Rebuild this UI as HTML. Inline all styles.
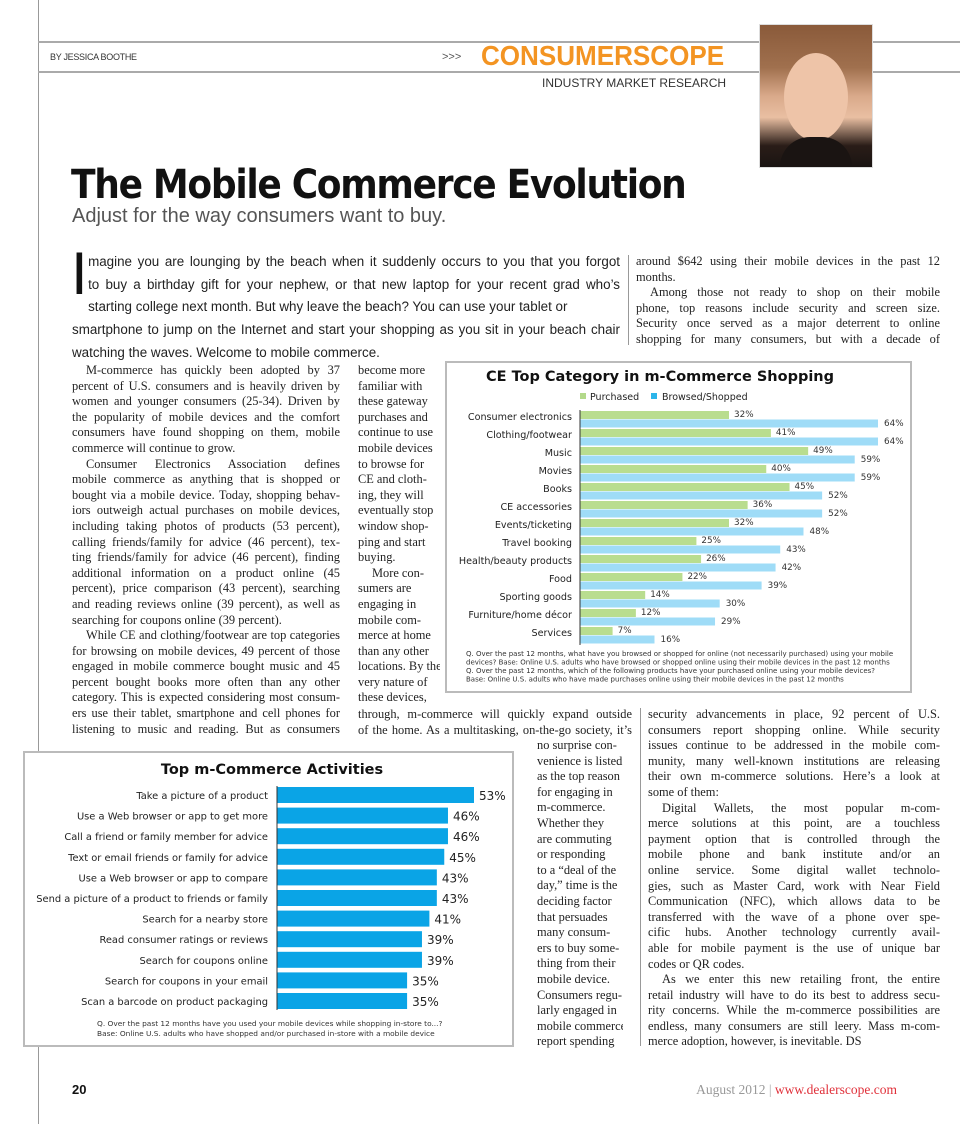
<!DOCTYPE html>
<html><head><meta charset="utf-8">
<style>
body{margin:0;background:#fff;}
#page{position:relative;width:960px;height:1124px;overflow:hidden;background:#fff;font-family:"Liberation Serif",serif;color:#222;}
.abs{position:absolute;}
.col{position:absolute;font-size:12.4px;line-height:15.6px;}
.ln{display:block;height:15.6px;white-space:nowrap;text-align:justify;text-align-last:justify;overflow:hidden;}
.ln.last{text-align-last:left;}
.ln.ind{text-indent:14px;}
.intro{position:absolute;font-family:"Liberation Sans",sans-serif;font-size:13.4px;line-height:22.7px;color:#222;}
.intro .ln{height:22.7px;}
</style></head><body>
<div id="page">
  <div class="abs" style="left:38px;top:0;width:1px;height:1124px;background:#999"></div>
  <div class="abs" style="left:38px;top:41px;width:922px;height:2px;background:#aaa"></div>
  <div class="abs" style="left:38px;top:71px;width:922px;height:2px;background:#aaa"></div>
  <div class="abs" style="left:50px;top:52px;font-family:'Liberation Sans Narrow','Liberation Sans',sans-serif;font-size:9px;color:#333;letter-spacing:-0.3px">BY JESSICA BOOTHE</div>
  <div class="abs" style="left:442px;top:51px;font-family:'Liberation Sans',sans-serif;font-size:11px;color:#555">&gt;&gt;&gt;</div>
  <div class="abs" style="left:481px;top:40px;font-family:'Liberation Sans Narrow','Liberation Sans',sans-serif;font-size:28px;font-weight:bold;color:#f39422;transform:scaleX(0.93);transform-origin:left top">CONSUMERSCOPE</div>
  <div class="abs" style="left:542px;top:76px;font-family:'Liberation Sans',sans-serif;font-size:12px;color:#333">INDUSTRY MARKET RESEARCH</div>
  <div class="abs" style="left:759px;top:24px;width:112px;height:142px;background:linear-gradient(180deg,#8a5a3a 0%,#a0704e 30%,#d9a98a 50%,#e9bfa2 65%,#2a1d18 85%,#1a1412 100%);border:1px solid #ddd">
    <div class="abs" style="left:24px;top:28px;width:64px;height:88px;border-radius:50%;background:#eec4a8"></div>
    <div class="abs" style="left:20px;top:112px;width:72px;height:30px;background:#1a1412;border-radius:30px 30px 0 0"></div>
  </div>
  <div class="abs" style="left:71px;top:162px;font-family:'DejaVu Sans Condensed','Liberation Sans',sans-serif;font-size:40px;font-weight:bold;color:#111;letter-spacing:-1.3px">The Mobile Commerce Evolution</div>
  <div class="abs" style="left:72px;top:205px;font-family:'Liberation Sans',sans-serif;font-size:20px;color:#555">Adjust for the way consumers want to buy.</div>
  <div class="abs" style="left:71px;top:244px;font-family:'Liberation Sans',sans-serif;font-size:60px;line-height:60px;color:#111">I</div>
  <div class="intro" id="intro" style="left:72px;top:251px;width:548px"></div>
  <div class="abs" style="left:628px;top:255px;width:1px;height:90px;background:#999"></div>
  <div class="abs" style="left:640px;top:708px;width:1px;height:338px;background:#999"></div>
  <div class="col" id="colA" style="left:72px;top:363px;width:268px"></div>
  <div class="col" id="colB" style="left:358px;top:363px;width:82px"></div>
  <div class="col" id="colC" style="left:358px;top:707px;width:274px"></div>
  <div class="col" id="colD" style="left:537px;top:738px;width:86px"></div>
  <div class="col" id="colE" style="left:636px;top:254px;width:304px"></div>
  <div class="col" id="colF" style="left:648px;top:707px;width:292px"></div>

  <svg class="abs" style="left:0;top:0" width="960" height="1124" id="charts"></svg>

  <div class="abs" style="left:72px;top:1082px;font-family:'Liberation Sans',sans-serif;font-size:13px;font-weight:bold;color:#111">20</div>
  <div class="abs" style="left:668px;top:1082px;width:229px;text-align:right;font-family:'Liberation Serif',serif;font-size:13.5px;color:#999">August 2012 <span style="color:#aaa">|</span> <span style="color:#e0303a">www.dealerscope.com</span></div>
</div>
<script>
// ---- text columns ("^" = indented first line, "~" = last line of paragraph) ----
function fill(id, lines){
  var c=document.getElementById(id);
  lines.forEach(function(t){
    var s=document.createElement('span');
    
    
    var cls='ln';
    if(t[0]==='^'){cls+=' ind';t=t.slice(1);}
    if(t[t.length-1]==='~'){cls+=' last';t=t.slice(0,-1);}
    s.className=cls; s.textContent=t; c.appendChild(s);
  });
}
fill('intro',[
 '\u2003\u2009magine you are lounging by the beach when it suddenly occurs to you that you forgot',
 '\u2003\u2009to buy a birthday gift for your nephew, or that new laptop for your recent grad who\u2019s',
 '\u2003\u2009starting college next month. But why leave the beach? You can use your tablet or~',
 'smartphone to jump on the Internet and start your shopping as you sit in your beach chair',
 'watching the waves. Welcome to mobile commerce.~']);
fill('colA',[
 '^M-commerce has quickly been adopted by 37','percent of U.S. consumers and is heavily driven by','women and younger consumers (25-34). Driven by','the popularity of mobile devices and the comfort','consumers have found shopping on them, mobile','commerce will continue to grow.~',
 '^Consumer Electronics Association defines','mobile commerce as anything that is shopped or','bought via a mobile device. Today, shopping behav-','iors outweigh actual purchases on mobile devices,','including taking photos of products (53 percent),','calling friends/family for advice (46 percent), tex-','ting friends/family for advice (46 percent), finding','additional information on a product online (45','percent), price comparison (43 percent), searching','and reading reviews online (39 percent), as well as','searching for coupons online (39 percent).~',
 '^While CE and clothing/footwear are top categories','for browsing on mobile devices, 49 percent of those','engaged in mobile commerce bought music and 45','percent bought books more often than any other','category. This is expected considering most consum-','ers use their tablet, smartphone and cell phones for','listening to music and reading. But as consumers']);
fill('colB',['become more~','familiar with~','these gateway~','purchases and~','continue to use~','mobile devices~','to browse for~','CE and cloth-~','ing, they will~','eventually stop~','window shop-~','ping and start~','buying.~','^More con-~','sumers are~','engaging in~','mobile com-~','merce at home~','than any other~','locations. By the~','very nature of~','these devices,~']);
fill('colC',['through, m-commerce will quickly expand outside','of the home. As a multitasking, on-the-go society, it\u2019s']);
fill('colD',['no surprise con-~','venience is listed~','as the top reason~','for engaging in~','m-commerce.~','Whether they~','are commuting~','or responding~','to a \u201cdeal of the~','day,\u201d time is the~','deciding factor~','that persuades~','many consum-~','ers to buy some-~','thing from their~','mobile device.~','Consumers regu-~','larly engaged in~','mobile commerce~','report spending~']);
fill('colE',['around $642 using their mobile devices in the past 12','months.~','^Among those not ready to shop on their mobile','phone, top reasons include security and screen size.','Security once served as a major deterrent to online','shopping for many consumers, but with a decade of']);
fill('colF',['security advancements in place, 92 percent of U.S.','consumers report shopping online. While security','issues continue to be addressed in the mobile com-','munity, many well-known institutions are releasing','their own m-commerce solutions. Here\u2019s a look at','some of them:~',
 '^Digital Wallets, the most popular m-com-','merce solutions at this point, are a touchless','payment option that is controlled through the','mobile phone and bank institute and/or an','online service. Some digital wallet technolo-','gies, such as Master Card, work with Near Field','Communication (NFC), which allows data to be','transferred with the wave of a phone over spe-','cific hubs. Another technology currently avail-','able for mobile payment is the use of unique bar','codes or QR codes.~',
 '^As we enter this new retailing front, the entire','retail industry will have to do its best to address secu-','rity concerns. While the m-commerce possibilities are','endless, many consumers are still leery. Mass m-com-','merce adoption, however, is inevitable. DS~']);
</script>
<script>
// ---- chart data ----
var ceCategories=['Consumer electronics','Clothing/footwear','Music','Movies','Books','CE accessories','Events/ticketing','Travel booking','Health/beauty products','Food','Sporting goods','Furniture/home d\u00e9cor','Services'];
var cePurchased=[32,41,49,40,45,36,32,25,26,22,14,12,7];
var ceBrowsed=[64,64,59,59,52,52,48,43,42,39,30,29,16];
var actCategories=['Take a picture of a product','Use a Web browser or app to get more','Call a friend or family member for advice','Text or email friends or family for advice','Use a Web browser or app to compare','Send a picture of a product to friends or family','Search for a nearby store','Read consumer ratings or reviews','Search for coupons online','Search for coupons in your email','Scan a barcode on product packaging'];
var actValues=[53,46,46,45,43,43,41,39,39,35,35];

var svg=document.getElementById('charts');
var NS='http://www.w3.org/2000/svg';
function mk(tag,attrs,txt){var e=document.createElementNS(NS,tag);for(var k in attrs)e.setAttribute(k,attrs[k]);if(txt!==undefined)e.textContent=txt;svg.appendChild(e);return e;}
var SANS='DejaVu Sans, Liberation Sans, sans-serif';

// Chart 1
var c1={x0:580,scale:(878-580)/64,top:411,pitch:18,bh:8};
function x1(v){return c1.x0+v*c1.scale;}
function y1(i){return c1.top+i*c1.pitch;}
var e;
e=mk('rect',{x:446,y:362,width:465,height:330,fill:'#fff',stroke:'#bbb','stroke-width':2});

e=mk('text',{x:660,y:381,'text-anchor':'middle','font-family':SANS,'font-size':14.5,'font-weight':'bold',fill:'#111'},'CE Top Category in m-Commerce Shopping');

e=mk('rect',{x:580,y:393,width:6,height:6,fill:'#b3d98a'});

e=mk('text',{x:590,y:400,'font-family':SANS,'font-size':9.5,fill:'#222'},'Purchased');

e=mk('rect',{x:651,y:393,width:6,height:6,fill:'#2cb5ea'});

e=mk('text',{x:662,y:400,'font-family':SANS,'font-size':9.5,fill:'#222'},'Browsed/Shopped');

ceCategories.forEach(function(c,i){
  var y=y1(i);
  e=mk('text',{x:572,y:y+9,'text-anchor':'end','font-family':SANS,'font-size':9.6,fill:'#222'},c);
  
  e=mk('rect',{x:c1.x0,y:y,width:x1(cePurchased[i])-c1.x0,height:c1.bh,fill:'#b9dd8f'});
  
  e=mk('rect',{x:c1.x0,y:y+c1.bh+0.5,width:x1(ceBrowsed[i])-c1.x0,height:c1.bh,fill:'#9fdcf7'});
  
  e=mk('text',{x:x1(cePurchased[i])+5,y:y+6,'font-family':SANS,'font-size':8.8,fill:'#333'},cePurchased[i]+'%');
  
  e=mk('text',{x:x1(ceBrowsed[i])+6,y:y+15,'font-family':SANS,'font-size':8.8,fill:'#333'},ceBrowsed[i]+'%');
  
});
e=mk('line',{x1:c1.x0,y1:y1(0)-1,x2:c1.x0,y2:y1(ceCategories.length-1)+2*c1.bh+2,stroke:'#333','stroke-width':1});

['Q. Over the past 12 months, what have you browsed or shopped for online (not necessarily purchased) using your mobile','devices? Base: Online U.S. adults who have browsed or shopped online using their mobile devices in the past 12 months','Q. Over the past 12 months, which of the following products have your purchased online using your mobile devices?','Base: Online U.S. adults who have made purchases online using their mobile devices in the past 12 months'].forEach(function(t,i){
  e=mk('text',{x:466,y:656+i*8.5,'font-family':SANS,'font-size':7,fill:'#333'},t);
  
});

// Chart 2
var c2={x0:277,scale:(474-277)/53,top:787,pitch:20.6,bh:16};
function x2(v){return c2.x0+v*c2.scale;}
function y2(i){return c2.top+i*c2.pitch;}
e=mk('rect',{x:24,y:752,width:489,height:294,fill:'#fff',stroke:'#bbb','stroke-width':2});

e=mk('text',{x:272,y:774,'text-anchor':'middle','font-family':SANS,'font-size':14.5,'font-weight':'bold',fill:'#111'},'Top m-Commerce Activities');

actCategories.forEach(function(c,i){
  var y=y2(i);
  e=mk('text',{x:268,y:y+12,'text-anchor':'end','font-family':SANS,'font-size':9.9,fill:'#222'},c);
  
  e=mk('rect',{x:c2.x0,y:y,width:x2(actValues[i])-c2.x0,height:c2.bh,fill:'#0aa4e6'});
  
  e=mk('text',{x:x2(actValues[i])+5,y:y+13,'font-family':SANS,'font-size':12,fill:'#222'},actValues[i]+'%');
  
});
e=mk('line',{x1:c2.x0,y1:y2(0)-1,x2:c2.x0,y2:y2(actCategories.length-1)+c2.bh+1,stroke:'#333','stroke-width':1});

['Q. Over the past 12 months have you used your mobile devices while shopping in-store to...?','Base: Online U.S. adults who have shopped and/or purchased in-store with a mobile device'].forEach(function(t,i){
  e=mk('text',{x:97,y:1026+i*10,'font-family':SANS,'font-size':7.4,fill:'#333'},t);
  
});
</script>
</body></html>
